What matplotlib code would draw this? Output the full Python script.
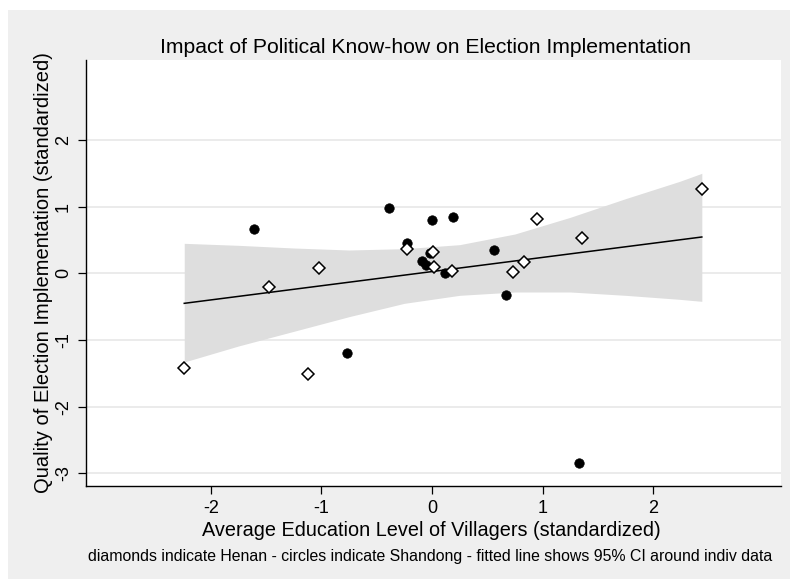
import matplotlib
matplotlib.use("Agg")
import matplotlib.pyplot as plt
from matplotlib.patches import Rectangle

# Henan villages (hollow diamonds)
henan_x = [-2.24, -1.47, -1.12, -1.02, -0.23, 0.01, 0.02, 0.18, 0.73, 0.83, 0.95, 1.36, 2.44]
henan_y = [-1.42, -0.21, -1.51, 0.08, 0.36, 0.32, 0.09, 0.03, 0.02, 0.17, 0.81, 0.53, 1.26]

# Shandong villages (filled circles)
shandong_x = [-1.61, -0.77, -0.39, -0.23, -0.09, -0.05, -0.02, 0.00, 0.12, 0.19, 0.56, 0.67, 1.33]
shandong_y = [0.66, -1.19, 0.98, 0.46, 0.19, 0.12, 0.31, 0.80, 0.00, 0.85, 0.35, -0.33, -2.85]

# fitted line and its 95% CI (estimated on individual-level data)
fit_x = [-2.24, 2.44]
fit_y = [-0.45, 0.545]
ci_x = [-2.24, -1.75, -1.25, -0.75, -0.25, 0.25, 0.75, 1.25, 1.75, 2.24, 2.44]
ci_lo = [-1.33, -1.09, -0.87, -0.65, -0.45, -0.33, -0.28, -0.28, -0.33, -0.39, -0.42]
ci_hi = [0.45, 0.42, 0.38, 0.35, 0.37, 0.43, 0.59, 0.84, 1.12, 1.38, 1.50]

x_ticks = [-2, -1, 0, 1, 2]
y_ticks = [-3, -2, -1, 0, 1, 2]

plt.rcParams["font.family"] = ["Liberation Sans", "DejaVu Sans"]
plt.rcParams["axes.unicode_minus"] = False

W, H = 790, 579
fig = plt.figure(figsize=(W / 100, H / 100), dpi=100, facecolor="white")
# grey graph region (thin white margin at top/left)
fig.patches.append(Rectangle((8 / W, 0), 1, (H - 10) / H, transform=fig.transFigure,
                             facecolor="#efefef", edgecolor="none", zorder=-10))

ax = fig.add_axes([85.7 / W, (H - 486) / H, (781 - 85.7) / W, (486 - 60) / H])
ax.set_facecolor("white")

ax.fill_between(ci_x, ci_lo, ci_hi, color="#dedede", lw=0, zorder=1)
ax.plot(fit_x, fit_y, color="black", lw=1.1, zorder=2)
ax.plot(shandong_x, shandong_y, "o", ms=6.8, mfc="black", mec="black", mew=0.5, zorder=3)
ax.plot(henan_x, henan_y, "D", ms=6.0, mfc="white", mec="black", mew=1.1, zorder=4)

ax.set_xlim(-3.131, 3.156)
ax.set_ylim(-3.19, 3.20)
ax.set_xticks(x_ticks)
ax.set_yticks(y_ticks)
ax.set_xticklabels([str(t) for t in x_ticks])
ax.set_yticklabels([str(t) for t in y_ticks])

ax.yaxis.grid(True, color="#e6e6e6", lw=1.1)
ax.set_axisbelow(True)
for s in ("top", "right"):
    ax.spines[s].set_visible(False)
for s in ("left", "bottom"):
    ax.spines[s].set_linewidth(1.0)
    ax.spines[s].set_color("black")

ax.tick_params(axis="both", direction="out", length=5.8, width=0.9, labelsize=13,
               colors="black")
ax.tick_params(axis="x", pad=4)
ax.tick_params(axis="y", pad=4)
for lab in ax.get_yticklabels():
    lab.set_rotation(90)
    lab.set_va("center")
    lab.set_ha("right")

fig.text(425 / W, (H - 53.3) / H, "Impact of Political Know-how on Election Implementation",
         ha="center", va="baseline", fontsize=15.2)
fig.text(43.5 / W, (H - 273) / H, "Quality of Election Implementation (standardized)",
         ha="center", va="center", rotation=90, fontsize=14.5)
fig.text(431 / W, (H - 536) / H, "Average Education Level of Villagers (standardized)",
         ha="center", va="baseline", fontsize=14.3)
fig.text(430 / W, (H - 561) / H,
         "diamonds indicate Henan - circles indicate Shandong - fitted line shows 95% CI around indiv data",
         ha="center", va="baseline", fontsize=11.4)

fig.savefig("out.png", dpi=100, facecolor=fig.get_facecolor())
